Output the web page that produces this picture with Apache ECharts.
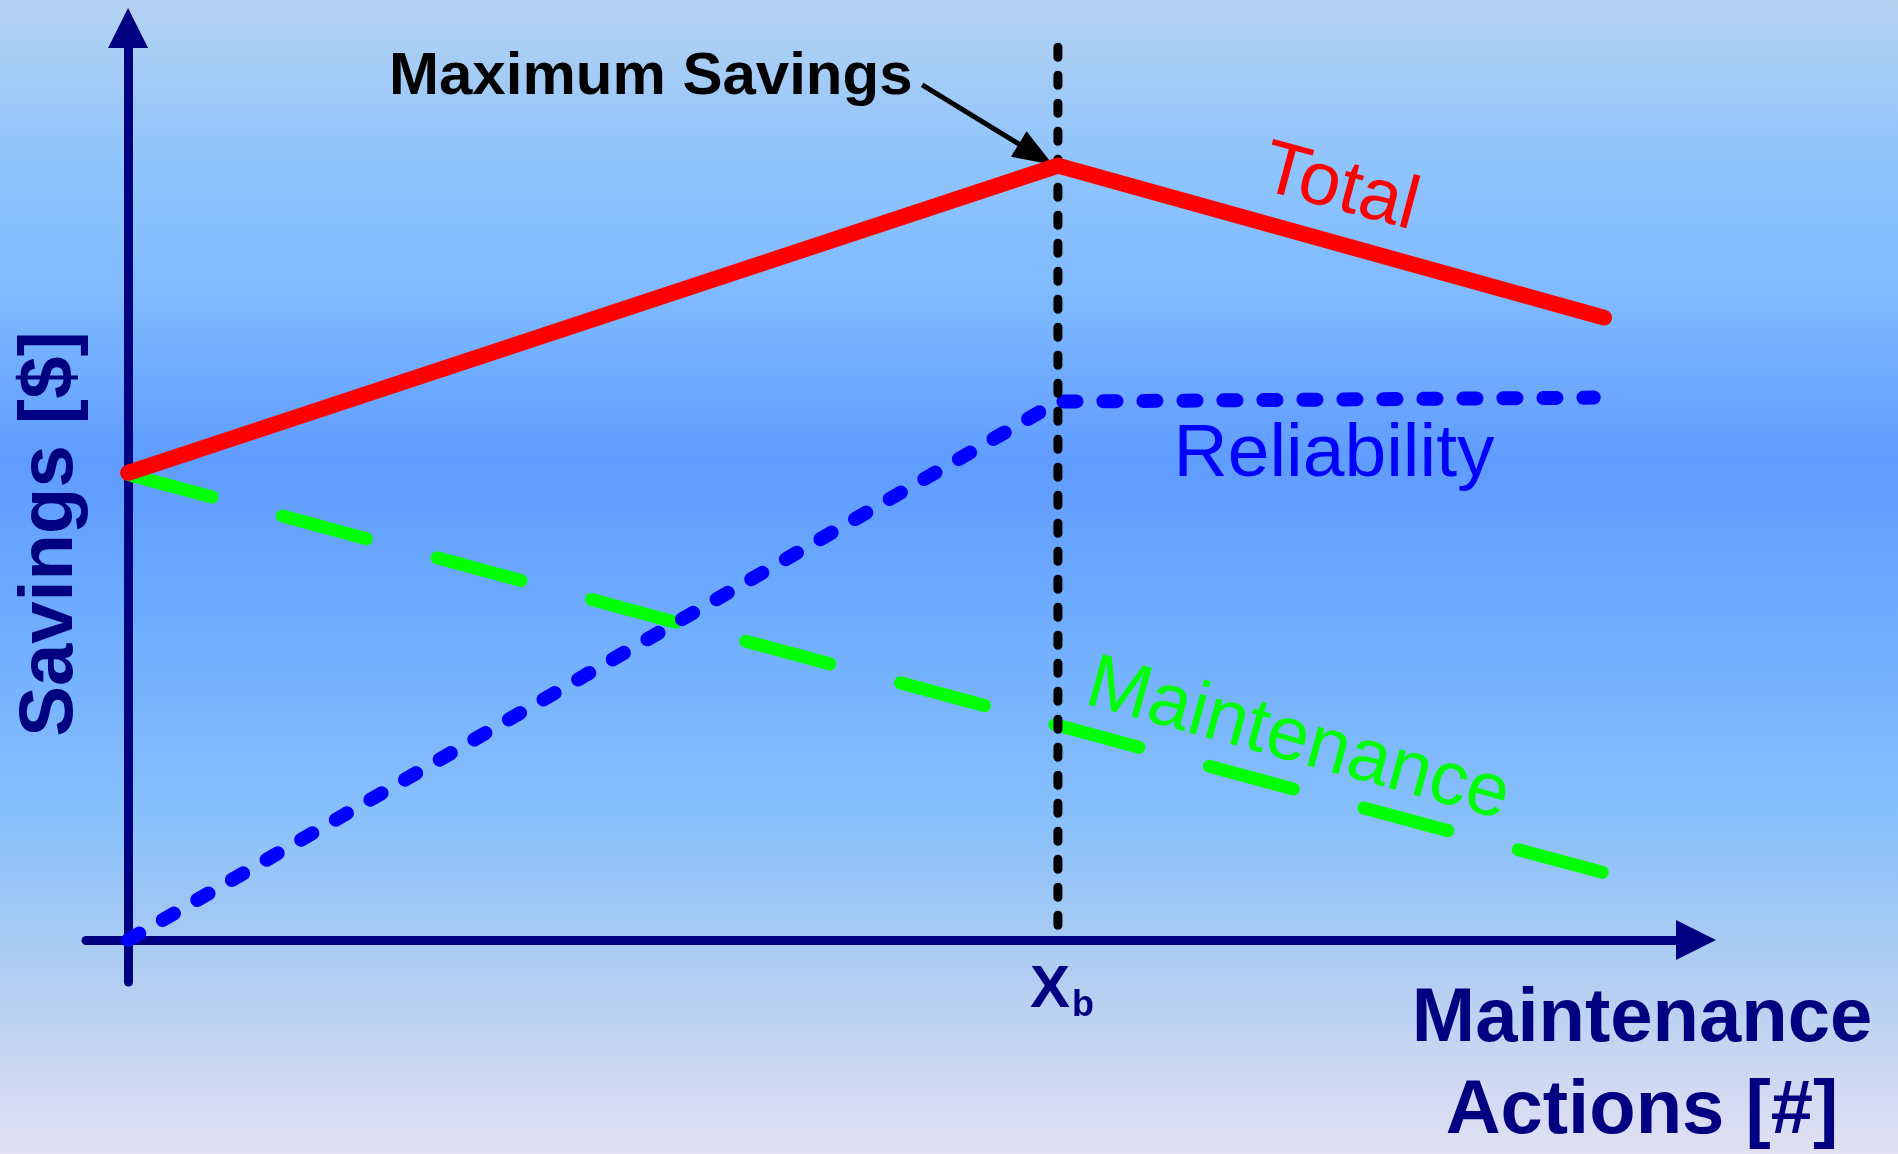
<!DOCTYPE html>
<html>
<head>
<meta charset="utf-8">
<script src="https://cdn.jsdelivr.net/npm/echarts@6/dist/echarts.min.js"></script>
<style>
html,body{margin:0;padding:0;}
#chart{width:1898px;height:1154px;}
</style>
</head>
<body>
<div id="chart"></div>
<script>
// ---- data (x: maintenance actions, y: savings, arbitrary units) ----
const totalX = [0, 63, 100];
const totalY = [58.4, 96.8, 77.8];
const reliabilityX = [0, 63, 99.3];
const reliabilityY = [0, 67.3, 67.8];
const maintenanceX = [0, 100];
const maintenanceY = [58.2, 8.4];
const breakX = 63;
const breakLineY = [111.6, 1.8];
const annotationFrom = [53.8, 106.9];
const annotationTo = [61.5, 98.2];
const xRange = [-2.85, 106.23];
const yRange = [-5.25, 114];

const pair = (xs, ys) => xs.map((x, i) => [x, ys[i]]);
const FONT = '"Liberation Sans", Arial, sans-serif';
const NAVY = '#000080';

const chart = echarts.init(document.getElementById('chart'), null, {renderer: 'canvas'});

const option = {
  animation: false,
  grid: {left: 86, right: 202, top: 28, bottom: 172, containLabel: false},
  xAxis: {
    type: 'value', min: xRange[0], max: xRange[1],
    axisLine: {show: true, onZero: true, symbol: ['none', 'triangle'], symbolSize: [40, 40],
      lineStyle: {color: NAVY, width: 9, cap: 'round'}},
    axisTick: {show: false}, axisLabel: {show: false}, splitLine: {show: false}
  },
  yAxis: {
    type: 'value', min: yRange[0], max: yRange[1],
    axisLine: {show: true, onZero: true, symbol: ['none', 'triangle'], symbolSize: [40, 40],
      lineStyle: {color: NAVY, width: 9, cap: 'round'}},
    axisTick: {show: false}, axisLabel: {show: false}, splitLine: {show: false}
  },
  graphic: [
    {type: 'rect', z: -100, silent: true,
      shape: {x: 0, y: 0, width: 1898, height: 1154},
      style: {fill: new echarts.graphic.LinearGradient(0, 0, 0, 1, [
        {offset: 0, color: '#B5D2F1'},
        {offset: 0.14, color: '#8FC4FC'},
        {offset: 0.25, color: '#80BBFF'},
        {offset: 0.40, color: '#5F9CFF'},
        {offset: 0.55, color: '#70AEFF'},
        {offset: 0.70, color: '#86BFFC'},
        {offset: 0.82, color: '#A9CBF2'},
        {offset: 1, color: '#E2E0F2'}
      ])}},
    {type: 'text', z: 100, x: 389, y: 77,
      style: {text: 'Maximum Savings', font: 'bold 60px ' + FONT, fill: '#000000', align: 'left', verticalAlign: 'middle'}},
    {type: 'text', z: 100, x: 1030, y: 990,
      style: {text: 'X', font: 'bold 60px ' + FONT, fill: NAVY, align: 'left', verticalAlign: 'middle'}},
    {type: 'text', z: 100, x: 1072, y: 1006,
      style: {text: 'b', font: 'bold 36px ' + FONT, fill: NAVY, align: 'left', verticalAlign: 'middle'}},
    {type: 'text', z: 100, x: 1642, y: 1020,
      style: {text: 'Maintenance', font: 'bold 76px ' + FONT, fill: NAVY, align: 'center', verticalAlign: 'middle'}},
    {type: 'text', z: 100, x: 1642, y: 1112,
      style: {text: 'Actions [#]', font: 'bold 76px ' + FONT, fill: NAVY, align: 'center', verticalAlign: 'middle'}},
    {type: 'text', z: 100, x: 51, y: 534, rotation: Math.PI / 2,
      style: {text: 'Savings [$]', font: 'bold 76px ' + FONT, fill: NAVY, align: 'center', verticalAlign: 'middle'}},
    {type: 'text', z: 100, x: 1340, y: 189, rotation: -15 * Math.PI / 180,
      style: {text: 'Total', font: '75px ' + FONT, fill: '#FF0000', align: 'center', verticalAlign: 'middle'}},
    {type: 'text', z: 100, x: 1334, y: 455,
      style: {text: 'Reliability', font: '75px ' + FONT, fill: '#0000FF', align: 'center', verticalAlign: 'middle'}},
    {type: 'text', z: 100, x: 1298, y: 741, rotation: -15.5 * Math.PI / 180,
      style: {text: 'Maintenance', font: '76px ' + FONT, fill: '#00FF00', align: 'center', verticalAlign: 'middle'}}
  ],
  series: [
    {
      name: 'Maintenance', type: 'line', data: pair(maintenanceX, maintenanceY),
      showSymbol: false, symbol: 'none', silent: true, z: 3,
      lineStyle: {color: '#00FF00', width: 13, type: [87, 73], cap: 'round'}
    },
    {
      name: 'Reliability', type: 'line', data: pair(reliabilityX, reliabilityY),
      showSymbol: false, symbol: 'none', silent: true, z: 4,
      lineStyle: {color: '#0000FF', width: 14, type: [13, 27], cap: 'round', join: 'round'}
    },
    {
      name: 'Xb', type: 'line', data: breakLineY.map(y => [breakX, y]),
      showSymbol: false, symbol: 'none', silent: true, z: 5,
      lineStyle: {color: '#000000', width: 9, type: [10, 18], cap: 'round'},
      markLine: {
        silent: true, symbol: ['none', 'triangle'], symbolSize: [30, 40],
        label: {show: false},
        lineStyle: {color: '#000000', width: 5, type: 'solid'},
        data: [[{coord: annotationFrom}, {coord: annotationTo}]]
      }
    },
    {
      name: 'Total', type: 'line', data: pair(totalX, totalY),
      showSymbol: false, symbol: 'none', silent: true, z: 6,
      lineStyle: {color: '#FF0000', width: 16, cap: 'round', join: 'round'}
    }
  ]
};
chart.setOption(option);
</script>
</body>
</html>
